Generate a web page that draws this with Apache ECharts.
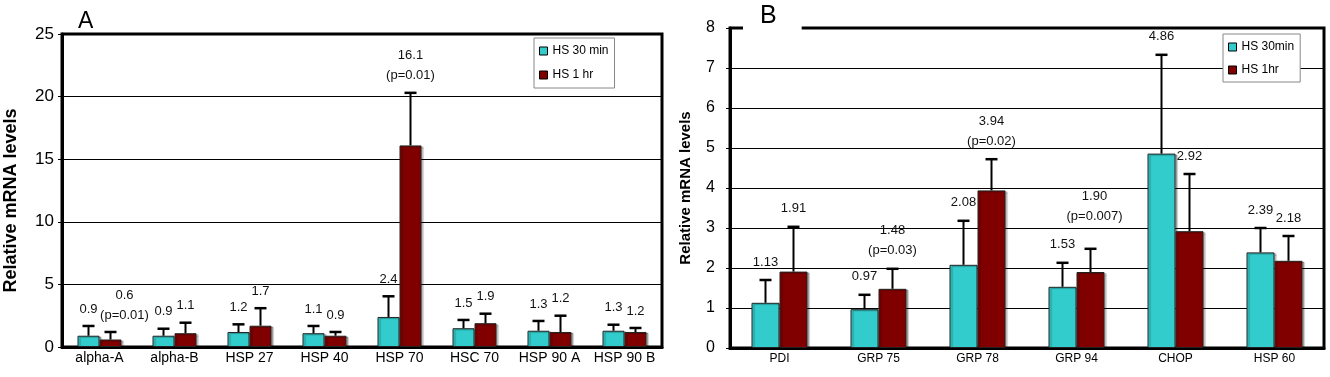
<!DOCTYPE html>
<html>
<head>
<meta charset="utf-8">
<script src="https://cdn.jsdelivr.net/npm/echarts@6/dist/echarts.min.js"></script>
<style>
  html, body { margin: 0; padding: 0; background: #fff; }
  #chart { width: 1330px; height: 377px; }
</style>
</head>
<body>
<div id="chart"></div>
<script>
// panel A
const catsA = ['alpha-A', 'alpha-B', 'HSP 27', 'HSP 40', 'HSP 70', 'HSC 70', 'HSP 90 A', 'HSP 90 B'];
const a30 = [0.9, 0.9, 1.2, 1.1, 2.4, 1.5, 1.3, 1.3];
const a1h = [0.6, 1.1, 1.7, 0.9, 16.1, 1.9, 1.2, 1.2];
const a30Sd = [0.78, 0.56, 0.61, 0.58, 1.65, 0.66, 0.78, 0.48];
const a1hSd = [0.6, 0.84, 1.4, 0.3, 4.2, 0.76, 1.3, 0.32];
const pA30 = ['', '', '', '', '', '', '', ''];
const pA1h = ['p=0.01', '', '', '', 'p=0.01', '', '', ''];

// panel B
const catsB = ['PDI', 'GRP 75', 'GRP 78', 'GRP 94', 'CHOP', 'HSP 60'];
const b30 = [1.13, 0.97, 2.08, 1.53, 4.86, 2.39];
const b1h = [1.91, 1.48, 3.94, 1.90, 2.92, 2.18];
const b30Sd = [0.57, 0.36, 1.10, 0.60, 2.47, 0.61];
const b1hSd = [1.12, 0.50, 0.78, 0.58, 1.43, 0.62];
const pB30 = ['', '', '', '', '', ''];
const pB1h = ['', 'p=0.03', 'p=0.02', 'p=0.007', '', ''];

const FONT = "'Liberation Sans', Arial, sans-serif";
const TEAL = '#33cccc';
const MAROON = '#800000';

// a couple of labels sit off-centre in the original to dodge their neighbours
const nudge = { 'A1h-0': [14, 0], 'B1h-3': [4, -14] };

const chart = echarts.init(document.getElementById('chart'));

// upper error bar + value label drawn on top of each bar
function errBars(key, axis, vals, sds, ps, side, halfW, digits, gap, fontSize) {
  return {
    type: 'custom',
    xAxisIndex: axis,
    yAxisIndex: axis,
    z: 5,
    silent: true,
    encode: { x: 0, y: [1, 2] },
    data: vals.map((v, i) => [i, v, v + sds[i]]),
    renderItem: (params, api) => {
      const i = api.value(0);
      const base = api.coord([i, api.value(1)]);
      const top = api.coord([i, api.value(2)]);
      const x = base[0] + side * halfW;
      const cap = 6;
      const off = nudge[key + '-' + i] || [0, 0];
      const txt = vals[i].toFixed(digits) + (ps[i] ? '\n(' + ps[i] + ')' : '');
      return {
        type: 'group',
        children: [
          { type: 'line', shape: { x1: x, y1: base[1], x2: x, y2: top[1] }, style: { stroke: '#000', lineWidth: 2 } },
          { type: 'line', shape: { x1: x - cap, y1: top[1], x2: x + cap, y2: top[1] }, style: { stroke: '#000', lineWidth: 2.5 } },
          {
            type: 'text', x: x + off[0], y: top[1] - gap + off[1],
            style: {
              text: txt, fill: '#111', fontSize: fontSize, fontFamily: FONT,
              align: 'center', verticalAlign: 'bottom', lineHeight: 20
            }
          }
        ]
      };
    }
  };
}

function barSeries(name, axis, data, color, width) {
  return {
    name: name,
    type: 'bar',
    xAxisIndex: axis,
    yAxisIndex: axis,
    barWidth: width,
    barGap: '0%',
    data: data,
    itemStyle: {
      color: color,
      borderColor: '#222',
      borderWidth: 1,
      shadowColor: 'rgba(0,0,0,0.3)',
      shadowBlur: 1,
      shadowOffsetX: 2,
      shadowOffsetY: 1
    }
  };
}

const option = {
  animation: false,
  textStyle: { fontFamily: FONT },
  title: [
    { text: 'A', left: 78, top: 10, padding: 0, textStyle: { fontSize: 23, fontWeight: 'normal', color: '#000', fontFamily: FONT } },
    {
      text: 'B', left: 743, top: 0, padding: [4, 25, 8, 17], backgroundColor: '#fff',
      textStyle: { fontSize: 25, lineHeight: 24, fontWeight: 'normal', color: '#000', fontFamily: FONT }
    }
  ],
  legend: [
    {
      data: ['HS 30 min', 'HS 1 hr'],
      orient: 'vertical', left: 534, top: 38,
      padding: [6, 6, 6, 5], itemGap: 10,
      itemWidth: 8, itemHeight: 8, icon: 'rect',
      backgroundColor: '#fff', borderColor: '#888', borderWidth: 1,
      itemStyle: { borderColor: '#000', borderWidth: 1 },
      textStyle: { fontSize: 12, lineHeight: 14, color: '#000', fontFamily: FONT }
    },
    {
      data: ['HS 30min', 'HS 1hr'],
      orient: 'vertical', left: 1223, top: 34,
      padding: [6, 6, 5, 5], itemGap: 9,
      itemWidth: 8, itemHeight: 8, icon: 'rect',
      backgroundColor: '#fff', borderColor: '#888', borderWidth: 1,
      itemStyle: { borderColor: '#000', borderWidth: 1 },
      textStyle: { fontSize: 12, lineHeight: 14, color: '#000', fontFamily: FONT }
    }
  ],
  grid: [
    { left: 62, top: 34, width: 600, height: 313, show: true, borderColor: '#000', borderWidth: 3, backgroundColor: 'transparent' },
    { left: 730, top: 28, width: 594, height: 320, show: true, borderColor: '#000', borderWidth: 3, backgroundColor: 'transparent' }
  ],
  xAxis: [
    {
      type: 'category', gridIndex: 0, data: catsA,
      axisLine: { lineStyle: { color: '#000', width: 3 } },
      axisTick: { length: 5, lineStyle: { color: '#000', width: 1 } },
      axisLabel: { margin: 4, fontSize: 14, color: '#000', fontFamily: FONT, interval: 0 }
    },
    {
      type: 'category', gridIndex: 1, data: catsB,
      axisLine: { lineStyle: { color: '#000', width: 3 } },
      axisTick: { length: 5, lineStyle: { color: '#000', width: 1 } },
      axisLabel: { margin: 5, fontSize: 12, color: '#000', fontFamily: FONT, interval: 0 }
    }
  ],
  yAxis: [
    {
      type: 'value', gridIndex: 0, min: 0, max: 25, interval: 5,
      name: 'Relative mRNA levels', nameLocation: 'middle', nameGap: 42,
      nameTextStyle: { fontSize: 18, fontWeight: 'bold', color: '#000', fontFamily: FONT, padding: [0, 0, 0, -20] },
      axisLine: { show: true, lineStyle: { color: '#000', width: 3 } },
      axisTick: { show: true, length: 4, lineStyle: { color: '#000' } },
      axisLabel: { margin: 8, fontSize: 17, color: '#000', fontFamily: FONT },
      splitLine: { lineStyle: { color: '#000', width: 1 } }
    },
    {
      type: 'value', gridIndex: 1, min: 0, max: 8, interval: 1,
      name: 'Relative mRNA levels', nameLocation: 'middle', nameGap: 37,
      nameTextStyle: { fontSize: 15, fontWeight: 'bold', color: '#000', fontFamily: FONT },
      axisLine: { show: true, lineStyle: { color: '#000', width: 3 } },
      axisTick: { show: true, length: 4, lineStyle: { color: '#000' } },
      axisLabel: { margin: 15, fontSize: 16, color: '#000', fontFamily: FONT },
      splitLine: { lineStyle: { color: '#000', width: 1 } }
    }
  ],
  series: [
    barSeries('HS 30 min', 0, a30, TEAL, 22),
    barSeries('HS 1 hr', 0, a1h, MAROON, 22),
    errBars('A30', 0, a30, a30Sd, pA30, -1, 11, 1, 7, 13),
    errBars('A1h', 0, a1h, a1hSd, pA1h, 1, 11, 1, 7, 13),
    barSeries('HS 30min', 1, b30, TEAL, 28),
    barSeries('HS 1hr', 1, b1h, MAROON, 28),
    errBars('B30', 1, b30, b30Sd, pB30, -1, 14, 2, 8, 13),
    errBars('B1h', 1, b1h, b1hSd, pB1h, 1, 14, 2, 8, 13)
  ]
};

chart.setOption(option);
</script>
</body>
</html>
